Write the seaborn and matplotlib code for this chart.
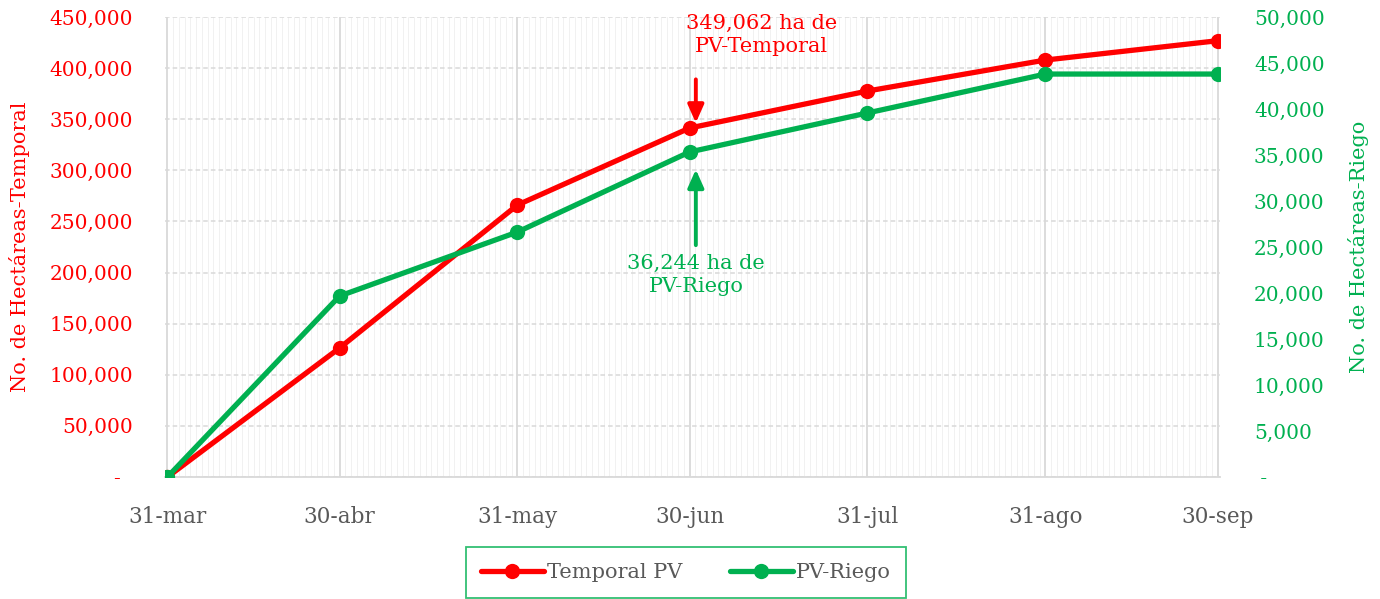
import pandas as pd
import matplotlib
matplotlib.use("Agg")
import matplotlib.pyplot as plt
import matplotlib.dates as mdates
from matplotlib.ticker import FuncFormatter, FixedLocator
import seaborn as sns

# data
fechas = ["2023-03-31", "2023-04-30", "2023-05-31", "2023-06-30",
          "2023-07-31", "2023-08-31", "2023-09-30"]
etiquetas = ["31-mar", "30-abr", "31-may", "30-jun", "31-jul", "31-ago", "30-sep"]
temporal = [0, 126200, 266100, 341400, 377600, 407900, 426800]
riego = [0, 19670, 26630, 35330, 39570, 43800, 43800]

ROJO = "#FF0000"
VERDE = "#00B050"
GRIS = "#595959"

sns.set_theme(style="white")
plt.rcParams["font.family"] = ["DejaVu Serif", "DejaVu Sans"]

df = pd.DataFrame({"fecha": pd.to_datetime(fechas), "temporal": temporal, "riego": riego})

fig = plt.figure(figsize=(13.8, 5.99), dpi=100)
ax = fig.add_axes([0.1196, 0.2037, 0.7644, 0.7679])
ax2 = ax.twinx()

sns.lineplot(data=df, x="fecha", y="temporal", ax=ax, color=ROJO, lw=3.8,
             marker="o", markersize=11, markeredgewidth=0, label="Temporal PV", legend=False)
sns.lineplot(data=df, x="fecha", y="riego", ax=ax2, color=VERDE, lw=3.8,
             marker="o", markersize=11, markeredgewidth=0, label="PV-Riego", legend=False)

x0 = df["fecha"].iloc[0] - pd.Timedelta(hours=10)
x1 = df["fecha"].iloc[-1] + pd.Timedelta(hours=10)
ax.set_xlim(x0, x1)
ax.set_ylim(0, 450000)
ax2.set_ylim(0, 50000)

ax.yaxis.set_major_locator(FixedLocator(range(0, 450001, 50000)))
ax2.yaxis.set_major_locator(FixedLocator(range(0, 50001, 5000)))
ax.yaxis.set_major_formatter(FuncFormatter(lambda v, p: "-  " if v == 0 else f"{v:,.0f}"))
ax2.yaxis.set_major_formatter(FuncFormatter(lambda v, p: " -" if v == 0 else f"{v:,.0f}"))

ax.xaxis.set_major_locator(FixedLocator(mdates.date2num(df["fecha"])))
ax.set_xticklabels(etiquetas)
ax.xaxis.set_minor_locator(mdates.DayLocator())

ax.grid(axis="y", which="major", color="#D9D9D9", ls=(0, (3, 2)), lw=1.1)
ax.grid(axis="x", which="major", color="#D9D9D9", lw=1.3)
ax.grid(axis="x", which="minor", color="#F1F1F1", lw=0.72)
ax.set_axisbelow(True)

for a in (ax, ax2):
    for s in a.spines.values():
        s.set_visible(False)
ax.spines["bottom"].set_visible(True)
ax.spines["bottom"].set_color("#D9D9D9")
ax.spines["bottom"].set_linewidth(1.3)

ax.tick_params(axis="x", which="major", colors="#D9D9D9", length=8, width=1.3,
               labelcolor=GRIS, labelsize=15.5, pad=13)
ax.tick_params(axis="x", which="minor", length=0)
ax.tick_params(axis="y", length=0, labelcolor=ROJO, labelsize=14.5, pad=23)
ax2.tick_params(axis="y", length=0, labelcolor=VERDE, labelsize=14.5, pad=24.5)

ax.set_xlabel("")
ax.set_ylabel("No. de Hectáreas-Temporal", color=ROJO, fontsize=15, labelpad=14)
ax2.set_ylabel("No. de Hectáreas-Riego", color=VERDE, fontsize=15, labelpad=17)

# annotations
jun = df["fecha"].iloc[3] + pd.Timedelta(hours=26)
flecha = "-|>,head_length=0.9,head_width=0.4"
ax.annotate("", xy=(jun, temporal[3] + 5000), xytext=(jun, 389000),
            arrowprops=dict(arrowstyle=flecha, color=ROJO, lw=2.8, shrinkA=0, shrinkB=0))
ax.text(df["fecha"].iloc[3] + pd.Timedelta(days=12.5), 432400, "349,062 ha de\nPV-Temporal",
        color=ROJO, fontsize=15, ha="center", va="center", linespacing=1.25)
ax2.annotate("", xy=(jun, riego[3] - 1900), xytext=(jun, 25200),
             arrowprops=dict(arrowstyle=flecha, color=VERDE, lw=2.8, shrinkA=0, shrinkB=0))
ax2.text(jun, 21950, "36,244 ha de\nPV-Riego", color=VERDE, fontsize=15,
         ha="center", va="center", linespacing=1.25)

h1, l1 = ax.get_legend_handles_labels()
h2, l2 = ax2.get_legend_handles_labels()
leg = fig.legend(h1 + h2, l1 + l2, loc="upper center", bbox_to_anchor=(0.497, 0.086),
                 ncol=2, fontsize=15, frameon=True, fancybox=False, handlelength=3.0,
                 handletextpad=0.15, columnspacing=2.3, borderpad=0.75, borderaxespad=0)
leg.get_frame().set_edgecolor(VERDE)
leg.get_frame().set_linewidth(1.3)
for t in leg.get_texts():
    t.set_color(GRIS)

fig.savefig("out.png", dpi=100)
